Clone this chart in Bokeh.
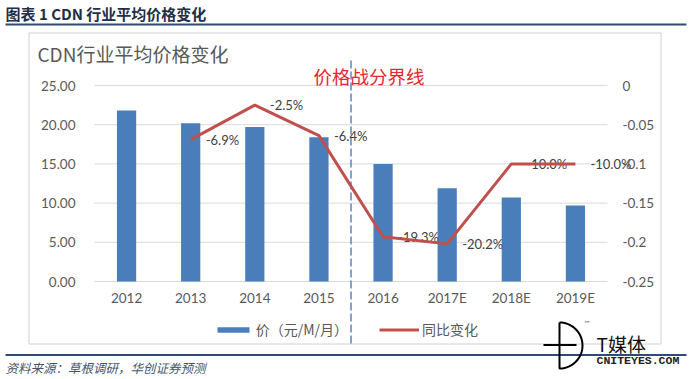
import math
from bokeh.plotting import figure
from bokeh.models import (Range1d, LinearAxis, FixedTicker, NumeralTickFormatter,
                          CustomJSTickFormatter, Legend, LegendItem)
from bokeh.core.properties import value
from bokeh.embed import file_html
from bokeh.resources import INLINE

# ---------------- data ----------------
years = ["2012", "2013", "2014", "2015", "2016", "2017E", "2018E", "2019E"]
price = [21.8, 20.2, 19.7, 18.4, 15.0, 11.9, 10.7, 9.7]
yoy_years = ["2013", "2014", "2015", "2016", "2017E", "2018E", "2019E"]
yoy = [-0.069, -0.025, -0.064, -0.193, -0.202, -0.100, -0.100]
yoy_labels = ["-6.9%", "-2.5%", "-6.4%", "-19.3%", "-20.2%", "-10.0%", "-10.0%"]
left_ticks = [0, 5, 10, 15, 20, 25]
right_ticks = [-0.25, -0.2, -0.15, -0.1, -0.05, 0]
price_range = (0, 25)
pct_range = (-0.25, 0)
divider_after = "2015"

header_text = "图表 1 CDN 行业平均价格变化"
chart_title = "CDN行业平均价格变化"
divider_text = "价格战分界线"
source_text = "资料来源：草根调研，华创证券预测"
bar_name = "价（元/M/月）"
line_name = "同比变化"
logo_text = "T媒体"
logo_sub = "CNITEYES.COM"

# ---------------- layout ----------------
W, H = 693, 379
FL, FR, FT, FB = 94, 607, 85, 281   # plot area edges (pixels)
CJK = "Noto Sans CJK SC"
LAT = "Lato"
GREY = "#595959"
NAVY = "#2F4A75"

n = len(years)
xpos = [i + 0.5 for i in range(n)]
cat_w = (FR - FL) / n
ppu = (FB - FT) / (price_range[1] - price_range[0])
ppp = (FB - FT) / (pct_range[1] - pct_range[0])

p = figure(width=W, height=H, title=None,
           x_range=Range1d(-FL / cat_w, (W - FL) / cat_w),
           y_range=Range1d(price_range[0] - (H - FB) / ppu, price_range[1] + FT / ppu),
           output_backend="svg", toolbar_location=None,
           min_border=0, min_border_left=0, min_border_right=0,
           min_border_top=0, min_border_bottom=0)
p.outline_line_color = None
p.background_fill_color = "white"
p.border_fill_color = "white"
p.grid.visible = False
p.extra_y_ranges = {"pct": Range1d(pct_range[0] - (H - FB) / ppp, pct_range[1] + FT / ppp),
                    "px": Range1d(H, 0)}
p.extra_x_ranges = {"px": Range1d(0, W)}


def txt(x, y, text, size, color, font=CJK, style="normal", align="left"):
    p.text(x=[x], y=[y], text=[text], x_range_name="px", y_range_name="px",
           text_baseline="middle", text_align=align,
           text_font=value(font), text_font_size=value(size), text_color=color,
           text_font_style=style)


def rule(x0, x1, y0, y1, color):
    p.quad(left=[x0], right=[x1], top=[y0], bottom=[y1], x_range_name="px", y_range_name="px",
           fill_color=color, line_color=None)


# header
txt(5, 13, header_text, "15px", "#232D45", style="bold")
rule(5, 686, 23, 25, NAVY)
# chart box
p.quad(left=[28.5], right=[660.5], top=[32.5], bottom=[343.5], x_range_name="px",
       y_range_name="px", fill_color=None, line_color="#D0D0D0", line_width=1)
txt(37, 53, chart_title, "19px", GREY)

# gridlines over the category span
p.segment(x0=[0] * len(left_ticks), x1=[n] * len(left_ticks), y0=left_ticks, y1=left_ticks,
          line_color="#D9D9D9", line_width=1)

# price war divider (boundary after 2015)
div_x = years.index(divider_after) + 1
p.line(x=[div_x, div_x], y=[60, 346], y_range_name="px", line_color="#5B84C4",
       line_width=1.5, line_dash="8 3")
txt(313, 75, divider_text, "18.5px", "#E8262D")

# bars
bars = p.vbar(x=xpos, top=price, bottom=0, width=0.3, fill_color="#4A7EBB", line_color=None)

# data labels then line
lab_x = [xpos[years.index(y)] for y in yoy_years]
p.text(x=lab_x, y=yoy, text=yoy_labels, y_range_name="pct",
       x_offset=15, text_baseline="middle", text_align="left",
       text_font=value(LAT), text_font_size=value("13px"), text_color="#404040")
line = p.line(x=lab_x, y=yoy, y_range_name="pct", line_color="#C0504D", line_width=3)

# axes (labels drawn into the canvas via negative standoff)
xax = p.xaxis[0]
xax.ticker = FixedTicker(ticks=xpos)
xax.formatter = CustomJSTickFormatter(args=dict(labels=years),
                                      code="const i = Math.floor(tick); return (i >= 0 && i < labels.length) ? labels[i] : '';")
yax = p.yaxis[0]
yax.ticker = FixedTicker(ticks=left_ticks)
yax.formatter = NumeralTickFormatter(format="0.00")
rax = LinearAxis(y_range_name="pct", ticker=FixedTicker(ticks=right_ticks),
                 formatter=CustomJSTickFormatter(code="return String(Math.round(tick*100)/100);"))
p.add_layout(rax, "right")
for ax in (xax, yax, rax):
    ax.axis_line_color = None
    ax.major_tick_line_color = None
    ax.minor_tick_line_color = None
    ax.major_tick_out = 0
    ax.major_tick_in = 0
    ax.minor_tick_out = 0
    ax.minor_tick_in = 0
    ax.major_label_text_font = LAT
    ax.major_label_text_font_size = "13.5px"
    ax.major_label_text_color = GREY
yax.major_label_standoff = -75
rax.major_label_standoff = -71
xax.major_label_standoff = -90

# legend
legend = Legend(items=[LegendItem(label=bar_name, renderers=[bars]),
                       LegendItem(label=line_name, renderers=[line])],
                orientation="horizontal", location=(212.7, H - 339),
                glyph_width=40, glyph_height=7, label_standoff=3, spacing=31,
                padding=0, margin=0, border_line_color=None, background_fill_alpha=0,
                label_text_font=CJK, label_text_font_size="14px", label_text_color=GREY)
p.add_layout(legend)

# footer
rule(5, 686, 353.5, 355.5, NAVY)
txt(5, 367, source_text, "12.5px", "#44546A", style="italic")

# logo
cx, cy, r = 559, 345, 23
lx = [cx + r * math.cos(math.radians(-90 + i * 5)) for i in range(37)] + [cx]
ly = [cy + r * math.sin(math.radians(-90 + i * 5)) for i in range(37)] + [cy - r]
p.line(x=lx, y=ly, x_range_name="px", y_range_name="px", line_color="black", line_width=2)
p.line(x=[543, 576], y=[344.5, 344.5], x_range_name="px", y_range_name="px",
       line_color="black", line_width=2)
txt(583, 323, "™", "7px", "#555555", font="DejaVu Sans")
txt(596, 343, logo_text, "19px", "#111111")
txt(596, 360, logo_sub, "11.5px", "#222222", font="Liberation Mono", style="bold")

open("out.html", "w").write(file_html(p, INLINE))
